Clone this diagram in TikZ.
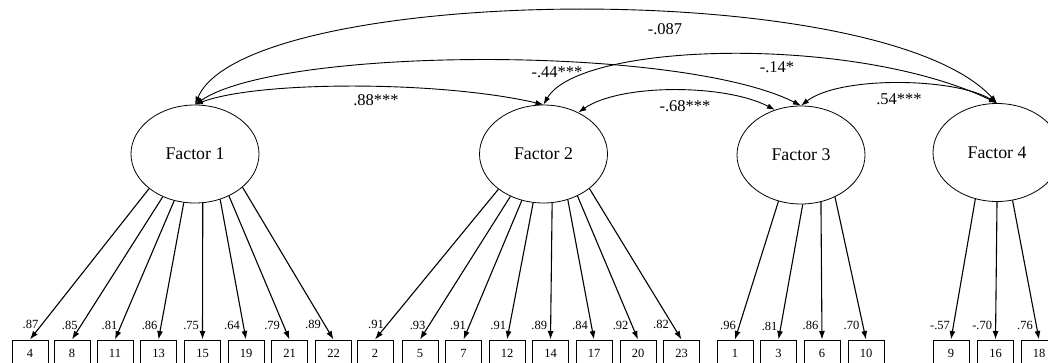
\documentclass[tikz,border=0pt]{standalone}
\usepackage{fontspec}
\setmainfont{Liberation Serif}
\usetikzlibrary{shapes.geometric,arrows.meta}
\tikzset{
    latent/.style={ellipse, draw, line width=0.8pt, minimum width=128pt, minimum height=98pt, inner sep=0pt, font=\fontsize{17.8}{20}\selectfont},
    indicator/.style={rectangle, draw, line width=1pt, minimum width=36pt, minimum height=26pt, inner sep=0pt, font=\fontsize{12.5}{14}\selectfont},
    loading/.style={-{Latex[length=8.5pt,width=6pt]}, line width=1.1pt},
    corr/.style={{Latex[length=8pt,width=5.5pt]}-{Latex[length=8pt,width=5.5pt]}, line width=0.9pt},
    weight/.style={font=\fontsize{12.5}{14}\selectfont, inner sep=1pt},
    coef/.style={font=\fontsize{16.5}{18}\selectfont, inner sep=0pt}
}
\begin{document}
\begin{tikzpicture}[x=1pt, y=-1pt]
    \useasboundingbox (0,0) rectangle (1048,363);

    % Latent factors
    \node[latent] (f1) at (195,154) {Factor 1};
    \node[latent] (f2) at (543.5,154) {Factor 2};
    \node[latent] (f3) at (801,155) {Factor 3};
    \node[latent] (f4) at (997,152.5) {Factor 4};

    % Items and loadings (factor/angle/item/x/loading)
    \foreach \f/\ang/\n/\x/\val in {
        f1/217/4/30/.87, f1/233/8/72/.85, f1/246/11/115/.81, f1/257/13/158.5/.86,
        f1/279/15/202.5/.75, f1/299/19/246/.64, f1/309/21/289.5/.79, f1/325/22/333.5/.89,
        f2/218/2/375/.91, f2/232/5/420/.93, f2/245/7/463.5/.91, f2/258/12/507/.91,
        f2/280/14/550.5/.89, f2/298/17/594/.84, f2/309/20/638/.92, f2/323/23/681.5/.82,
        f3/244/1/735/.96, f3/272/3/778.5/.81, f3/293/6/822/.86, f3/309/10/866/.70,
        f4/245/9/951/-.57, f4/270/16/995.5/-.70, f4/288/18/1039/.76} {
        \node[indicator] (b\n) at (\x,353) {\n};
        \draw[loading] (\f.\ang) -- (b\n.north) node[weight, pos=0.9, left=2pt] {\val};
    }

    % Correlations between factors
    \draw[corr] (f1.north) .. controls +(63,-24) and +(-103,-24) .. (f2.north);
    \draw[corr] (f1.north) .. controls +(85,-58) and +(-121,-61) .. (f3.north);
    \draw[corr] (f1.north) .. controls +(50,-120) and +(-117,-128.5) .. (f4.north);
    \draw[corr] (f2.north) .. controls +(36.5,-63) and +(-142,-68.5) .. (f4.north);
    \draw[corr] (f2.50) .. controls +(42,-29) and +(-50,-26) .. (f3.120);
    \draw[corr] (f3.north) .. controls +(39,-30) and +(-42,-25.5) .. (f4.north);

    % Correlation values
    \node[coef] (r12) at (376,100) {.88***};
    \node[coef] (r13) at (557,72) {-.44***};
    \node[coef] (r14) at (665,29) {-.087};
    \node[coef] (r24) at (777,67) {-.14*};
    \node[coef] (r23) at (685,106) {-.68***};
    \node[coef] (r34) at (899,99) {.54***};
\end{tikzpicture}
\end{document}
